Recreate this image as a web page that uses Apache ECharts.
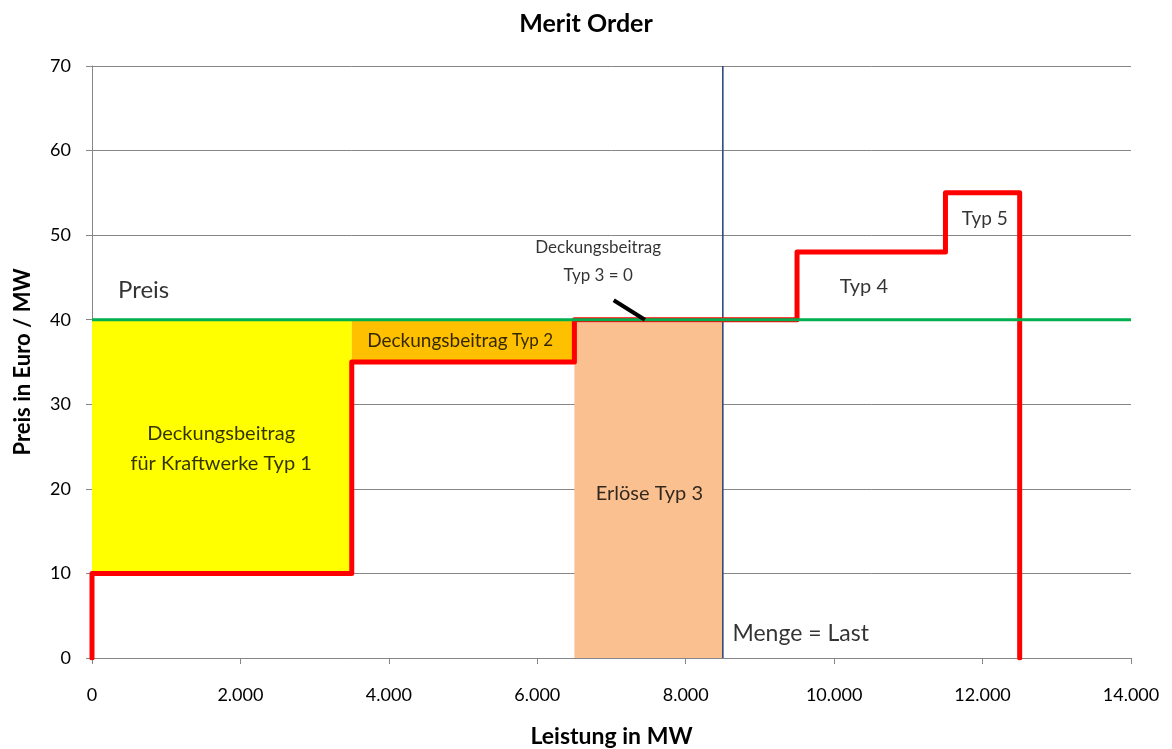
<!DOCTYPE html>
<html><head><meta charset="utf-8">
<script src="https://cdn.jsdelivr.net/npm/echarts@6/dist/echarts.min.js"></script>
<style>html,body{margin:0;padding:0;background:#fff}#c{width:1172px;height:749px}</style>
</head><body><div id="c"></div>
<script>
// Merit order data
const stepQty = [0, 3500, 6500, 9500, 11500, 12500];   // cumulative capacity boundaries (MW)
const stepPrice = [10, 35, 40, 48, 55];                 // price of each plant type (Euro/MW)
const marketPrice = 40;
const demand = 8500;
const xTicks = [0, 2000, 4000, 6000, 8000, 10000, 12000, 14000];
const yTicks = [0, 10, 20, 30, 40, 50, 60, 70];
const labels = [
  {name: 'Preis', x: 350, y: 43.5, size: 24, lh: 28, align: 'left'},
  {name: 'Deckungsbeitrag\nfür Kraftwerke Typ 1', x: 1740, y: 24.8, size: 20, lh: 30, align: 'center'},
  {name: 'Deckungsbeitrag\nTyp 3 = 0', x: 6820, y: 46.9, size: 17, lh: 28, align: 'center'},
  {name: 'Erlöse Typ 3', x: 7510, y: 19.5, size: 20, lh: 24, align: 'center'},
  {name: 'Menge = Last', x: 8630, y: 2.9, size: 23, lh: 26, align: 'left'},
  {name: 'Typ 4', x: 10400, y: 43.9, size: 20, lh: 24, align: 'center'},
  {name: 'Typ 5', x: 12030, y: 51.9, size: 19, lh: 24, align: 'center'}
];
const arrow = [[7030, 42.3], [7450, 40]];

const FONT = 'Lato, "Open Sans", sans-serif';
const stepData = [[stepQty[0], 0]];
for (let i = 0; i < stepPrice.length; i++) {
  stepData.push([stepQty[i], stepPrice[i]]);
  stepData.push([stepQty[i + 1], stepPrice[i]]);
}
stepData.push([stepQty[stepQty.length - 1], 0]);

const chart = echarts.init(document.getElementById('c'), null, {renderer: 'canvas'});
chart.setOption({
  animation: false,
  textStyle: {fontFamily: FONT},
  title: {text: 'Merit Order', left: 'center', top: 6,
    textStyle: {fontFamily: FONT, fontSize: 25, fontWeight: 'bold', color: '#000'}},
  grid: {left: 92, right: 41, top: 66, bottom: 91, containLabel: false, outerBoundsMode: 'none'},
  xAxis: {
    type: 'value', min: 0, max: 14000, interval: 2000,
    name: 'Leistung in MW', nameLocation: 'middle', nameGap: 67,
    nameTextStyle: {fontFamily: FONT, fontSize: 23, fontWeight: 'bold', color: '#000'},
    axisLine: {lineStyle: {color: '#868686', width: 1}},
    axisTick: {show: true, length: 6, lineStyle: {color: '#868686'}},
    axisLabel: {fontFamily: FONT, fontSize: 18, color: '#000', margin: 28,
      formatter: v => xTicks.includes(v) ? v.toLocaleString('de-DE') : ''},
    splitLine: {show: false}
  },
  yAxis: {
    type: 'value', min: 0, max: 70, interval: 10,
    name: 'Preis in Euro / MW', nameLocation: 'middle', nameGap: 58,
    nameTextStyle: {fontFamily: FONT, fontSize: 22, fontWeight: 'bold', color: '#000'},
    axisLine: {show: true, lineStyle: {color: '#868686', width: 1}},
    axisTick: {show: true, length: 6, lineStyle: {color: '#868686'}},
    axisLabel: {fontFamily: FONT, fontSize: 18, color: '#000', margin: 21,
      formatter: v => yTicks.includes(v) ? String(v) : ''},
    splitLine: {lineStyle: {color: '#868686', width: 1}}
  },
  series: [
    {
      type: 'line', data: [], silent: true, z: 1,
      markArea: {silent: true, data: [
        [{coord: [stepQty[0], stepPrice[0]], itemStyle: {color: '#FFFF00'}}, {coord: [stepQty[1], marketPrice]}],
        [{coord: [stepQty[1], stepPrice[1]], itemStyle: {color: '#FFC000'}}, {coord: [stepQty[2], marketPrice]}],
        [{coord: [stepQty[2], 0], itemStyle: {color: '#FAC090'}}, {coord: [demand, marketPrice - 0.3]}]
      ]}
    },
    {
      type: 'line', data: [[demand, 0], [demand, 70]], symbol: 'none', z: 3,
      lineStyle: {color: '#2E4C80', width: 1.6}
    },
    {
      type: 'line', data: stepData, symbol: 'none', z: 4,
      lineStyle: {color: '#FF0000', width: 5, join: 'round', cap: 'round'}
    },
    {
      type: 'line', data: [[0, marketPrice], [14000, marketPrice]], symbol: 'none', z: 5,
      lineStyle: {color: '#00B050', width: 3}
    },
    {
      type: 'line', data: arrow, symbol: 'none', z: 6,
      lineStyle: {color: '#000', width: 4}
    },
    {
      type: 'scatter', symbolSize: 0, z: 7, silent: true,
      data: labels.map(l => ({value: [l.x, l.y], name: l.name,
        label: {show: true, position: 'inside', formatter: l.name, fontSize: l.size, align: l.align,
          color: '#000', fontFamily: FONT, lineHeight: l.lh}}))
    },
    {
      type: 'scatter', symbolSize: 0, z: 7, silent: true,
      data: [{value: [4960, 37.5],
        label: {show: true, position: 'inside', formatter: '{a|Deckungsbeitrag}{b| Typ 2}',
          rich: {a: {fontSize: 19, fontFamily: FONT, color: '#000'}, b: {fontSize: 17, fontFamily: FONT, color: '#000'}}}}]
    }
  ]
});
</script></body></html>
